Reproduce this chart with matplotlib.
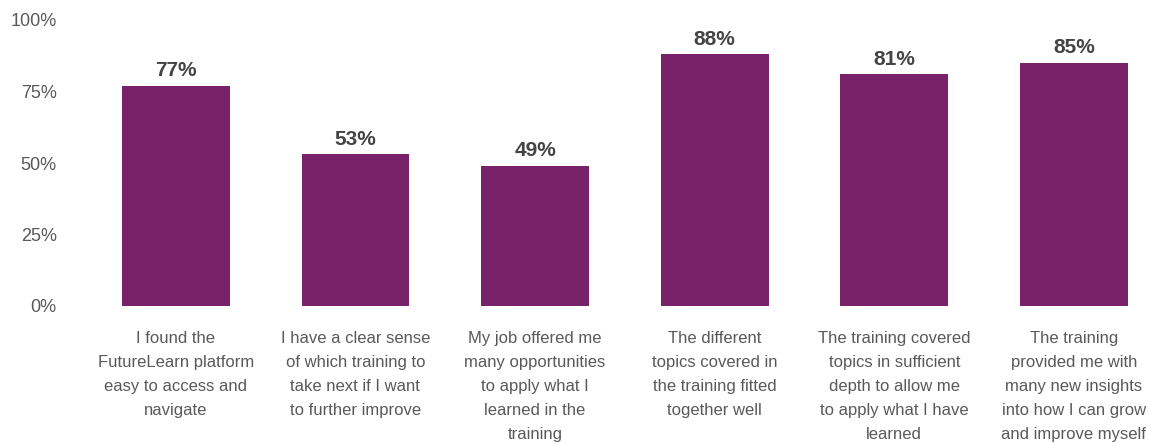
import matplotlib
matplotlib.use("Agg")
import matplotlib.pyplot as plt

categories = [
    "I found the\nFutureLearn platform\neasy to access and\nnavigate",
    "I have a clear sense\nof which training to\ntake next if I want\nto further improve",
    "My job offered me\nmany opportunities\nto apply what I\nlearned in the\ntraining",
    "The different\ntopics covered in\nthe training fitted\ntogether well",
    "The training covered\ntopics in sufficient\ndepth to allow me\nto apply what I have\nlearned",
    "The training\nprovided me with\nmany new insights\ninto how I can grow\nand improve myself",
]
values = [77, 53, 49, 88, 81, 85]
y_ticks = [0, 25, 50, 75, 100]

plt.rcParams["font.family"] = ["Liberation Sans", "DejaVu Sans"]

W, H = 1149, 443
fig = plt.figure(figsize=(W / 100, H / 100), dpi=100)
ax = fig.add_axes([86 / W, 137 / H, (W - 86) / W, 286 / H])

x = list(range(len(values)))
bars = ax.bar(x, values, width=0.6, color="#772269")

for rect, v in zip(bars, values):
    ax.annotate(f"{v}%", (rect.get_x() + rect.get_width() / 2, v),
                xytext=(0, 4), textcoords="offset points",
                ha="center", va="bottom", fontsize=15, fontweight="bold",
                color="#444444")

ax.set_xlim(-0.5, 5.418)
ax.set_ylim(0, 100)
ax.set_yticks(y_ticks)
ax.set_yticklabels([f"{t}%" for t in y_ticks])
ax.set_xticks(x)
ax.set_xticklabels(categories, linespacing=1.75)

for s in ax.spines.values():
    s.set_visible(False)
ax.tick_params(axis="both", length=0, colors="#595959")
ax.tick_params(axis="y", labelsize=13, pad=21)
ax.tick_params(axis="x", labelsize=12, pad=18)

plt.savefig("out.png", dpi=100)
plt.close()
